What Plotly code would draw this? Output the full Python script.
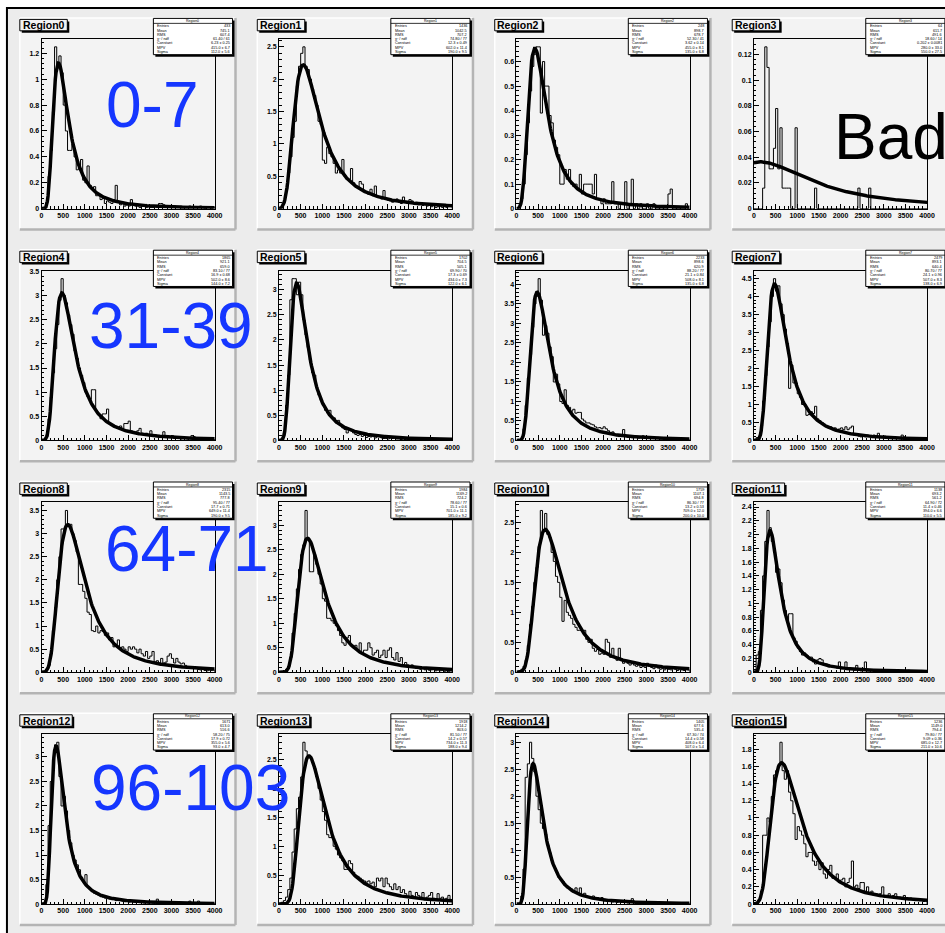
import numpy as np
import plotly.graph_objects as go

W, H = 945, 933
BIN_WIDTH = 50
X_MIN, X_MAX = 0, 4000

titles = [f"Region{i}" for i in range(16)]

# histogram contents, 80 bins of width 50 from 0 to 4000
hist_region0 = [0, 0, 0.05, 0.25, 0.45, 0.75, 1.25, 1.1, 1.18, 1.05,
                0.8, 0.6, 0.45, 0.45, 0.5, 0.4, 0.3, 0.32, 0.38, 0.22,
                0.2, 0.33, 0.18, 0.15, 0.17, 0.1, 0.1, 0.07, 0.08, 0.04,
                0.06, 0.05, 0.04, 0.07, 0.18, 0.05, 0.03, 0.04, 0.02, 0.03,
                0.02, 0.07, 0.04, 0.02, 0.02, 0.01, 0.02, 0.02, 0.01, 0.02,
                0.01, 0.01, 0.02, 0.01, 0.04, 0.04, 0.03, 0.01, 0.02, 0.01,
                0.01, 0.02, 0.01, 0.01, 0.02, 0.01, 0.01, 0.01, 0.02, 0.01,
                0.01, 0.01, 0.01, 0.02, 0.01, 0, 0.01, 0.01, 0, 0.01]
hist_region1 = [0, 0.02, 0.1, 0.3, 0.55, 0.8, 1.1, 1.35, 1.9, 2.2,
                2.4, 2.5, 2.2, 2.15, 2.0, 1.85, 1.75, 1.6, 1.35, 1.3,
                0.75, 0.7, 0.95, 0.85, 0.8, 0.7, 0.55, 0.6, 0.55, 0.76,
                0.5, 0.45, 0.45, 0.62, 0.4, 0.35, 0.33, 0.42, 0.38, 0.28,
                0.25, 0.22, 0.3, 0.2, 0.35, 0.2, 0.18, 0.15, 0.28, 0.15,
                0.13, 0.12, 0.1, 0.12, 0.15, 0.1, 0.08, 0.18, 0.1, 0.08,
                0.14, 0.12, 0.08, 0.1, 0.06, 0.07, 0.05, 0.08, 0.04, 0.06,
                0.03, 0.08, 0.02, 0.03, 0.04, 0.02, 0.03, 0.02, 0.06, 0.04]
hist_region2 = [0, 0.01, 0.04, 0.1, 0.22, 0.35, 0.48, 0.58, 0.63, 0.66,
                0.66, 0.39, 0.6, 0.5, 0.5, 0.38, 0.35, 0.28, 0.25, 0.22,
                0.1, 0.1, 0.16, 0.12, 0.16, 0.1, 0.09, 0.1, 0.08, 0.14,
                0.06, 0.1, 0.1, 0.1, 0.1, 0.06, 0.14, 0.04, 0.04, 0.02,
                0.04, 0.02, 0.02, 0.02, 0.11, 0.02, 0.02, 0, 0.02, 0.02,
                0.11, 0, 0.02, 0.12, 0, 0.02, 0, 0.02, 0, 0,
                0.02, 0, 0, 0.02, 0, 0, 0, 0, 0, 0,
                0.06, 0.08, 0, 0, 0, 0, 0, 0, 0.02, 0]
hist_region3 = [0, 0, 0, 0, 0.016, 0.126, 0.11, 0.031, 0.031, 0.047,
                0.078, 0.031, 0.063, 0.016, 0.016, 0.016, 0.016, 0, 0, 0.063,
                0, 0, 0, 0, 0, 0, 0, 0, 0.016, 0,
                0, 0, 0, 0, 0, 0, 0, 0, 0, 0,
                0, 0, 0, 0, 0, 0, 0, 0, 0.016, 0,
                0, 0, 0, 0.016, 0, 0, 0, 0, 0, 0,
                0, 0, 0, 0, 0, 0, 0, 0, 0, 0,
                0, 0, 0, 0, 0, 0, 0, 0, 0, 0]
hist_region4 = [0, 0.02, 0.08, 0.45, 0.9, 1.4, 1.9, 2.4, 2.9, 3.35,
                3.0, 2.85, 2.6, 2.4, 2.2, 1.85, 1.7, 1.5, 1.35, 1.2,
                1.0, 0.9, 0.85, 1.05, 1.05, 0.6, 0.55, 0.45, 0.55, 0.55,
                0.65, 0.35, 0.33, 0.3, 0.28, 0.25, 0.3, 0.25, 0.35, 0.35,
                0.4, 0.2, 0.18, 0.15, 0.2, 0.25, 0.15, 0.12, 0.15, 0.1,
                0.2, 0.1, 0.12, 0.08, 0.1, 0.08, 0.18, 0.06, 0.08, 0.06,
                0.1, 0.04, 0.05, 0.08, 0.03, 0.04, 0.05, 0.03, 0.06, 0.1,
                0.08, 0.03, 0.05, 0.06, 0.03, 0.02, 0.04, 0.02, 0.03, 0.02]
hist_region5 = [0, 0.05, 0.15, 0.7, 1.3, 2.8, 3.22, 3.22, 2.9, 3.15,
                2.9, 2.4, 2.1, 1.85, 1.6, 1.35, 1.3, 1.05, 0.9, 0.8,
                0.7, 0.6, 0.55, 0.6, 0.45, 0.45, 0.35, 0.4, 0.3, 0.25,
                0.22, 0.15, 0.22, 0.2, 0.15, 0.12, 0.1, 0.12, 0.08, 0.1,
                0.06, 0.08, 0.07, 0.1, 0.05, 0.09, 0.1, 0.05, 0.04, 0.04,
                0.03, 0.05, 0.04, 0.06, 0.03, 0.03, 0.02, 0.03, 0.02, 0.02,
                0.03, 0.02, 0.01, 0.02, 0.02, 0.01, 0.02, 0.01, 0.01, 0.02,
                0.01, 0.01, 0.02, 0.01, 0.01, 0.01, 0.02, 0.01, 0.01, 0.01]
hist_region6 = [0, 0.02, 0.05, 0.3, 0.9, 1.6, 2.2, 2.9, 3.5, 3.7,
                4.15, 3.6, 2.7, 2.95, 2.75, 2.4, 2.15, 1.5, 1.7, 1.45,
                1.0, 0.95, 1.3, 0.9, 0.85, 0.75, 0.8, 0.7, 0.72, 0.72,
                0.55, 0.5, 0.45, 0.45, 0.42, 0.4, 0.35, 0.32, 0.33, 0.3,
                0.35, 0.3, 0.25, 0.2, 0.22, 0.15, 0.12, 0.1, 0.1, 0.28,
                0.1, 0.08, 0.1, 0.07, 0.08, 0.1, 0.06, 0.07, 0.12, 0.05,
                0.07, 0.05, 0.1, 0.05, 0.05, 0.08, 0.04, 0.05, 0.06, 0.04,
                0.03, 0.06, 0.04, 0.02, 0.05, 0.03, 0.02, 0.03, 0.04, 0.02]
hist_region7 = [0, 0.08, 0.1, 0.4, 1.1, 1.8, 2.6, 3.3, 4.0, 4.5,
                4.15, 4.3, 3.8, 3.5, 3.1, 2.7, 1.45, 2.1, 1.6, 1.6,
                1.3, 1.2, 1.0, 1.0, 0.7, 0.72, 0.8, 0.75, 0.95, 0.6,
                0.55, 0.5, 0.45, 0.4, 0.35, 0.38, 0.3, 0.35, 0.3, 0.32,
                0.35, 0.3, 0.38, 0.3, 0.35, 0.4, 0.15, 0.15, 0.12, 0.1,
                0.12, 0.1, 0.15, 0.12, 0.08, 0.15, 0.1, 0.2, 0.08, 0.1,
                0.12, 0.08, 0.08, 0.05, 0.06, 0.05, 0.06, 0.05, 0.15, 0.1,
                0.04, 0.05, 0.03, 0.06, 0.02, 0.04, 0.03, 0.02, 0.03, 0.02]
hist_region8 = [0, 0.02, 0.05, 0.15, 0.4, 0.9, 1.4, 2.0, 2.5, 3.1,
                3.1, 3.5, 3.2, 3.2, 3.0, 2.85, 2.6, 1.9, 1.9, 1.75,
                1.6, 1.3, 1.25, 0.9, 0.88, 1.0, 0.85, 0.9, 0.88, 0.8,
                0.85, 0.7, 0.75, 0.55, 0.6, 0.7, 0.5, 0.55, 0.5, 0.45,
                0.55, 0.5, 0.55, 0.5, 0.42, 0.5, 0.4, 0.35, 0.45, 0.3,
                0.35, 0.45, 0.22, 0.25, 0.2, 0.3, 0.2, 0.22, 0.35, 0.4,
                0.3, 0.2, 0.3, 0.22, 0.18, 0.2, 0.15, 0.12, 0.1, 0.12,
                0.08, 0.1, 0.06, 0.05, 0.06, 0.04, 0.03, 0.05, 0.04, 0.05]
hist_region9 = [0, 0.01, 0.03, 0.06, 0.12, 0.3, 0.8, 1.2, 1.7, 2.1,
                2.4, 2.6, 3.3, 2.7, 2.05, 2.05, 2.4, 2.2, 2.0, 1.8,
                1.5, 1.45, 1.1, 1.1, 1.05, 1.0, 0.95, 0.85, 0.75, 0.6,
                0.55, 0.7, 0.75, 0.55, 0.5, 0.55, 0.45, 0.6, 0.4, 0.45,
                0.45, 0.6, 0.5, 0.35, 0.4, 0.45, 0.3, 0.35, 0.45, 0.3,
                0.45, 0.5, 0.3, 0.25, 0.4, 0.22, 0.3, 0.15, 0.2, 0.15,
                0.12, 0.15, 0.1, 0.08, 0.1, 0.06, 0.08, 0.05, 0.07, 0.04,
                0.05, 0.06, 0.03, 0.05, 0.03, 0.04, 0.02, 0.03, 0.02, 0.03]
hist_region10 = [0, 0.02, 0.05, 0.1, 0.2, 0.45, 0.8, 1.1, 1.5, 1.75,
                 2.1, 2.7, 2.35, 2.65, 2.3, 2.25, 2.0, 1.85, 1.6, 1.5,
                 1.25, 0.85, 1.2, 1.0, 0.95, 0.9, 0.8, 0.75, 0.7, 0.7,
                 0.68, 0.7, 0.55, 0.5, 0.55, 0.4, 0.35, 0.38, 0.3, 0.32,
                 0.3, 0.55, 0.5, 0.25, 0.4, 0.25, 0.2, 0.4, 0.2, 0.15,
                 0.18, 0.15, 0.12, 0.15, 0.12, 0.1, 0.12, 0.08, 0.1, 0.08,
                 0.15, 0.1, 0.08, 0.06, 0.12, 0.07, 0.05, 0.06, 0.04, 0.08,
                 0.05, 0.04, 0.07, 0.05, 0.03, 0.06, 0.04, 0.03, 0.05, 0.04]
hist_region11 = [0, 0.25, 0.3, 0.9, 1.4, 1.9, 2.35, 2.1, 1.9, 1.75,
                 1.45, 1.5, 1.3, 1.05, 0.9, 0.75, 0.85, 0.85, 0.5, 0.45,
                 0.35, 0.3, 0.25, 0.28, 0.25, 0.2, 0.22, 0.15, 0.12, 0.18,
                 0.2, 0.18, 0.1, 0.12, 0.08, 0.1, 0.07, 0.08, 0.06, 0.15,
                 0.05, 0.06, 0.15, 0.04, 0.05, 0.04, 0.03, 0.1, 0.03, 0.02,
                 0.03, 0.15, 0.02, 0.02, 0.03, 0.02, 0.02, 0.01, 0.02, 0.01,
                 0.02, 0.01, 0.02, 0.01, 0.01, 0.02, 0.01, 0.01, 0.01, 0.02,
                 0.01, 0.03, 0.01, 0.01, 0.02, 0.01, 0, 0.01, 0.01, 0.01]
hist_region12 = [0, 0.03, 0.4, 1.6, 2.5, 2.95, 3.25, 3.3, 2.6, 2.0,
                 2.2, 1.9, 1.5, 1.25, 1.0, 0.9, 0.8, 0.7, 0.55, 0.45,
                 0.6, 0.35, 0.3, 0.28, 0.22, 0.2, 0.18, 0.15, 0.14, 0.12,
                 0.11, 0.1, 0.09, 0.1, 0.07, 0.08, 0.1, 0.06, 0.05, 0.06,
                 0.04, 0.05, 0.04, 0.03, 0.05, 0.03, 0.04, 0.02, 0.03, 0.02,
                 0.03, 0.02, 0.03, 0.1, 0.02, 0.02, 0.03, 0.01, 0.02, 0.02,
                 0.01, 0.02, 0.01, 0.01, 0.02, 0.01, 0.01, 0.02, 0.06, 0.01,
                 0.02, 0.01, 0.06, 0.01, 0.01, 0.02, 0.01, 0.01, 0.02, 0.01]
hist_region13 = [0, 0.03, 0.06, 0.12, 0.25, 0.45, 0.9, 1.3, 1.65, 1.85,
                 2.2, 2.8, 2.65, 2.55, 2.55, 2.45, 2.35, 2.2, 2.0, 1.8,
                 1.6, 1.45, 1.2, 1.15, 1.15, 1.0, 0.95, 0.85, 0.8, 0.75,
                 0.6, 0.6, 0.75, 0.7, 0.55, 0.5, 0.48, 0.45, 0.42, 0.4,
                 0.38, 0.4, 0.35, 0.38, 0.3, 0.45, 0.4, 0.45, 0.3, 0.45,
                 0.35, 0.3, 0.25, 0.35, 0.25, 0.3, 0.2, 0.25, 0.18, 0.12,
                 0.22, 0.15, 0.12, 0.2, 0.15, 0.12, 0.2, 0.1, 0.12, 0.15,
                 0.2, 0.1, 0.08, 0.18, 0.1, 0.12, 0.08, 0.1, 0.15, 0.06]
hist_region14 = [0, 0.02, 0.15, 0.65, 2.35, 2.6, 3.0, 2.7, 2.45, 2.0,
                 1.75, 1.5, 1.4, 1.3, 1.1, 0.95, 0.8, 0.7, 0.6, 0.5,
                 0.45, 0.42, 0.35, 0.3, 0.3, 0.28, 0.22, 0.3, 0.2, 0.3,
                 0.18, 0.2, 0.15, 0.14, 0.12, 0.15, 0.1, 0.12, 0.08, 0.12,
                 0.06, 0.08, 0.05, 0.06, 0.04, 0.05, 0.03, 0.05, 0.03, 0.04,
                 0.03, 0.02, 0.03, 0.1, 0.02, 0.03, 0.02, 0.01, 0.02, 0.03,
                 0.02, 0.01, 0.02, 0.01, 0.02, 0.01, 0.01, 0.02, 0.01, 0.01,
                 0.02, 0.01, 0.01, 0.01, 0.02, 0.01, 0.01, 0.01, 0.01, 0.01]
hist_region15 = [0, 0.02, 0.05, 0.15, 0.8, 0.8, 1.0, 0.95, 1.25, 1.5,
                 1.55, 1.6, 1.88, 1.55, 1.45, 1.55, 1.3, 1.2, 1.05, 0.75,
                 0.9, 0.85, 0.8, 0.7, 0.55, 0.6, 0.6, 0.5, 0.45, 0.5,
                 0.4, 0.48, 0.35, 0.3, 0.4, 0.45, 0.3, 0.3, 0.35, 0.25,
                 0.28, 0.3, 0.2, 0.25, 0.3, 0.5, 0.2, 0.22, 0.18, 0.25,
                 0.25, 0.15, 0.2, 0.12, 0.15, 0.1, 0.12, 0.1, 0.12, 0.2,
                 0.08, 0.1, 0.12, 0.08, 0.1, 0.12, 0.07, 0.08, 0.06, 0.1,
                 0.06, 0.05, 0.07, 0.05, 0.04, 0.06, 0.04, 0.05, 0.03, 0.05]

hists = [hist_region0, hist_region1, hist_region2, hist_region3,
         hist_region4, hist_region5, hist_region6, hist_region7,
         hist_region8, hist_region9, hist_region10, hist_region11,
         hist_region12, hist_region13, hist_region14, hist_region15]

# Landau fit parameters (Constant, MPV, Sigma) per region
fit_constant = [6.23, 12.3, 3.62, 0.202, 16.9, 17.34, 21.05, 24.1,
                17.67, 15.12, 13.19, 11.41, 17.9, 14.18, 14.4, 9.09]
fit_mpv = [415, 602, 455, 280, 502, 434, 508, 507,
           649, 701, 709, 394, 355, 734, 408, 685]
fit_sigma = [112, 190, 135, 550, 144, 122, 135, 138,
             190, 185, 200, 110, 93, 188, 107, 211]

# stat box entries
entries = [433, 1436, 248, 64, 1865, 1702, 2233, 2479,
           2315, 1984, 1759, 1138, 1671, 1918, 1405, 1236]
chi2 = [61.4, 74.8, 52.3, 18.6, 83.1, 69.9, 88.2, 80.7,
        95.4, 78.6, 86.3, 64.9, 58.2, 81.5, 67.3, 79.8]
ndf = [61, 77, 41, 14, 77, 70, 77, 77, 77, 77, 77, 72, 75, 77, 74, 77]

# y-axis major tick step per region
y_major = [0.2, 0.5, 0.1, 0.02, 0.5, 0.5, 0.5, 0.5,
           0.5, 0.5, 0.5, 0.2, 0.5, 0.5, 0.5, 0.2]

overlay_texts = ["0-7", "31-39", "64-71", "96-103", "Bad"]

# ---------------------------------------------------------------
_t = np.linspace(0.0, 60.0, 24001)
_tlogt = np.where(_t > 0, _t * np.log(np.where(_t > 0, _t, 1.0)), 0.0)
_sin = np.sin(np.pi * _t)


def landau(lam):
    lam = np.asarray(lam, float)
    out = np.zeros_like(lam)
    ok = lam > -3.5
    L = lam[ok][:, None]
    integrand = np.exp(-_tlogt[None, :] - L * _t[None, :]) * _sin[None, :]
    out[ok] = np.trapezoid(integrand, _t, axis=1) / np.pi
    return np.clip(out, 0, None)


def px(x):
    return x / W


def py(y):
    return 1 - y / H


FONT = "Liberation Sans, Arial, sans-serif"
PAD_FILL = "#f3f3f3"
CANVAS = "#ececec"

fig = go.Figure()
shapes = []
annotations = []
layout = dict(width=W, height=H, margin=dict(l=0, r=0, t=0, b=0),
              paper_bgcolor="white", plot_bgcolor="rgba(0,0,0,0)",
              showlegend=False)

# canvas with window border
shapes.append(dict(type="rect", xref="paper", yref="paper",
                   x0=px(5), x1=px(980), y0=py(5), y1=py(980),
                   fillcolor=CANVAS, line=dict(color="black", width=2),
                   layer="below"))

edges = np.arange(X_MIN, X_MAX + BIN_WIDTH, BIN_WIDTH)
xfit = np.linspace(X_MIN, X_MAX, 241)
stat_labels = ["Entries", "Mean", "RMS", "\u03c7\u00b2 / ndf", "Constant", "MPV", "Sigma"]

for i in range(16):
    r, c = divmod(i, 4)
    k = "" if i == 0 else str(i + 1)
    hv = np.asarray(hists[i], float)

    pad_l = 18 + 240 * c
    pad_t = 15 + 233.3 * r
    pad_w, pad_h = 218, 213
    # pad
    shapes.append(dict(type="rect", xref="paper", yref="paper",
                       x0=px(pad_l), x1=px(pad_l + pad_w), y0=py(pad_t + pad_h), y1=py(pad_t),
                       fillcolor=PAD_FILL, line=dict(width=0), layer="below"))
    for (xa, ya, xb, yb, col, wd) in [
        (pad_l, pad_t, pad_l + pad_w, pad_t, "white", 1.5),
        (pad_l, pad_t, pad_l, pad_t + pad_h, "white", 1.5),
        (pad_l, pad_t + pad_h, pad_l + pad_w, pad_t + pad_h, "#b4b4b4", 2.5),
        (pad_l + pad_w, pad_t, pad_l + pad_w, pad_t + pad_h, "#b4b4b4", 2.5),
    ]:
        shapes.append(dict(type="line", xref="paper", yref="paper",
                           x0=px(xa), x1=px(xb), y0=py(ya), y1=py(yb),
                           line=dict(color=col, width=wd), layer="below"))

    # frame
    fl = 40 + 240 * c
    ft = 36 + 233.3 * r
    ymax = 1.05 * hv.max()

    axis_common = dict(showline=True, mirror=True, linecolor="black", linewidth=1,
                       ticks="inside", ticklen=5, tickwidth=1, tickcolor="black",
                       showgrid=False, zeroline=False, fixedrange=True,
                       tickfont=dict(family=FONT, size=7, color="black", weight="bold"))
    layout[f"xaxis{k}"] = dict(domain=[px(fl), px(fl + 175)], anchor=f"y{k}",
                               range=[X_MIN, X_MAX], tick0=0, dtick=500,
                               minor=dict(ticks="inside", ticklen=2.5, tickcolor="black",
                                          dtick=100, showgrid=False),
                               **axis_common)
    layout[f"yaxis{k}"] = dict(domain=[py(ft + 171), py(ft)], anchor=f"x{k}",
                               range=[0, ymax], tick0=0, dtick=y_major[i],
                               minor=dict(ticks="inside", ticklen=2.5, tickcolor="black",
                                          dtick=y_major[i] / 5, showgrid=False),
                               **axis_common)

    # histogram outline
    xs = np.concatenate([[edges[0]], edges[:-1], [edges[-1]], [edges[-1]]])
    ys = np.concatenate([[0], hv, [hv[-1]], [0]])
    fig.add_trace(go.Scatter(x=xs, y=ys, mode="lines", line=dict(color="black", width=1, shape="hv"),
                             xaxis=f"x{k}", yaxis=f"y{k}", hoverinfo="skip"))
    # Landau fit
    yfit = fit_constant[i] * landau((xfit - fit_mpv[i]) / fit_sigma[i])
    fig.add_trace(go.Scatter(x=xfit, y=yfit, mode="lines", line=dict(color="black", width=3.5),
                             xaxis=f"x{k}", yaxis=f"y{k}", hoverinfo="skip", cliponaxis=True))

    # title box
    tw = 48 if len(titles[i]) == 7 else 53
    shapes.append(dict(type="rect", xref="paper", yref="paper",
                       x0=px(pad_l + 2), x1=px(pad_l + tw + 2), y0=py(pad_t + 15), y1=py(pad_t + 3.5),
                       fillcolor="black", line=dict(width=0), layer="above"))
    shapes.append(dict(type="rect", xref="paper", yref="paper",
                       x0=px(pad_l), x1=px(pad_l + tw), y0=py(pad_t + 13), y1=py(pad_t + 1.5),
                       fillcolor=PAD_FILL, line=dict(color="black", width=1), layer="above"))
    annotations.append(dict(xref="paper", yref="paper", x=px(pad_l + tw / 2), y=py(pad_t + 7.3),
                            text=f"<b>{titles[i]}</b>", showarrow=False, xanchor="center", yanchor="middle",
                            font=dict(family=FONT, size=10.5, color="black"), borderpad=0))

    # stat box
    sx0, sx1 = pad_l + 135, pad_l + 215
    sy0, sy1 = pad_t + 0.5, pad_t + 37
    shapes.append(dict(type="rect", xref="paper", yref="paper",
                       x0=px(sx0 + 2), x1=px(sx1 + 2), y0=py(sy1 + 2), y1=py(sy0 + 2),
                       fillcolor="black", line=dict(width=0), layer="above"))
    shapes.append(dict(type="rect", xref="paper", yref="paper",
                       x0=px(sx0), x1=px(sx1), y0=py(sy1), y1=py(sy0),
                       fillcolor="white", line=dict(color="black", width=1), layer="above"))
    shapes.append(dict(type="line", xref="paper", yref="paper",
                       x0=px(sx0), x1=px(sx1), y0=py(sy0 + 5), y1=py(sy0 + 5),
                       line=dict(color="black", width=0.8), layer="above"))
    annotations.append(dict(xref="paper", yref="paper", x=px((sx0 + sx1) / 2), y=py(sy0 + 2.6),
                            text=titles[i], showarrow=False, xanchor="center", yanchor="middle",
                            font=dict(family=FONT, size=3.5, color="black"), borderpad=0))
    centers = edges[:-1] + BIN_WIDTH / 2
    tot = hv.sum()
    mean = (centers * hv).sum() / tot
    rms = np.sqrt(((centers - mean) ** 2 * hv).sum() / tot)
    vals = [f"{entries[i]}", f"{mean:.1f}", f"{rms:.1f}", f"{chi2[i]:.2f} / {ndf[i]}",
            f"{fit_constant[i]:.3g} \u00b1 {fit_constant[i] * 0.04:.2g}",
            f"{fit_mpv[i]:.1f} \u00b1 {fit_sigma[i] * 0.06:.1f}",
            f"{fit_sigma[i]:.1f} \u00b1 {fit_sigma[i] * 0.05:.1f}"]
    for j, (lab, val) in enumerate(zip(stat_labels, vals)):
        yy = sy0 + 8 + 4.3 * j
        annotations.append(dict(xref="paper", yref="paper", x=px(sx0 + 3), y=py(yy),
                                text=lab, showarrow=False, xanchor="left", yanchor="middle",
                                font=dict(family=FONT, size=3.8, color="black"), borderpad=0))
        annotations.append(dict(xref="paper", yref="paper", x=px(sx1 - 2), y=py(yy),
                                text=val, showarrow=False, xanchor="right", yanchor="middle",
                                font=dict(family=FONT, size=3.8, color="black"), borderpad=0))

# big overlay labels
BLUE = "#1536ff"
overlay_pos = [(103, 102.5, BLUE), (86, 325, BLUE), (102, 550, BLUE), (88, 790, BLUE), (839, 135, "black")]
for txt, (xx, yy, col) in zip(overlay_texts, overlay_pos):
    annotations.append(dict(xref="paper", yref="paper", x=px(xx), y=py(yy), text=txt,
                            showarrow=False, xanchor="left", yanchor="middle",
                            font=dict(family=FONT, size=64, color=col)))

layout["shapes"] = shapes
layout["annotations"] = annotations
fig.update_layout(**layout)
fig.write_html("out.html")
